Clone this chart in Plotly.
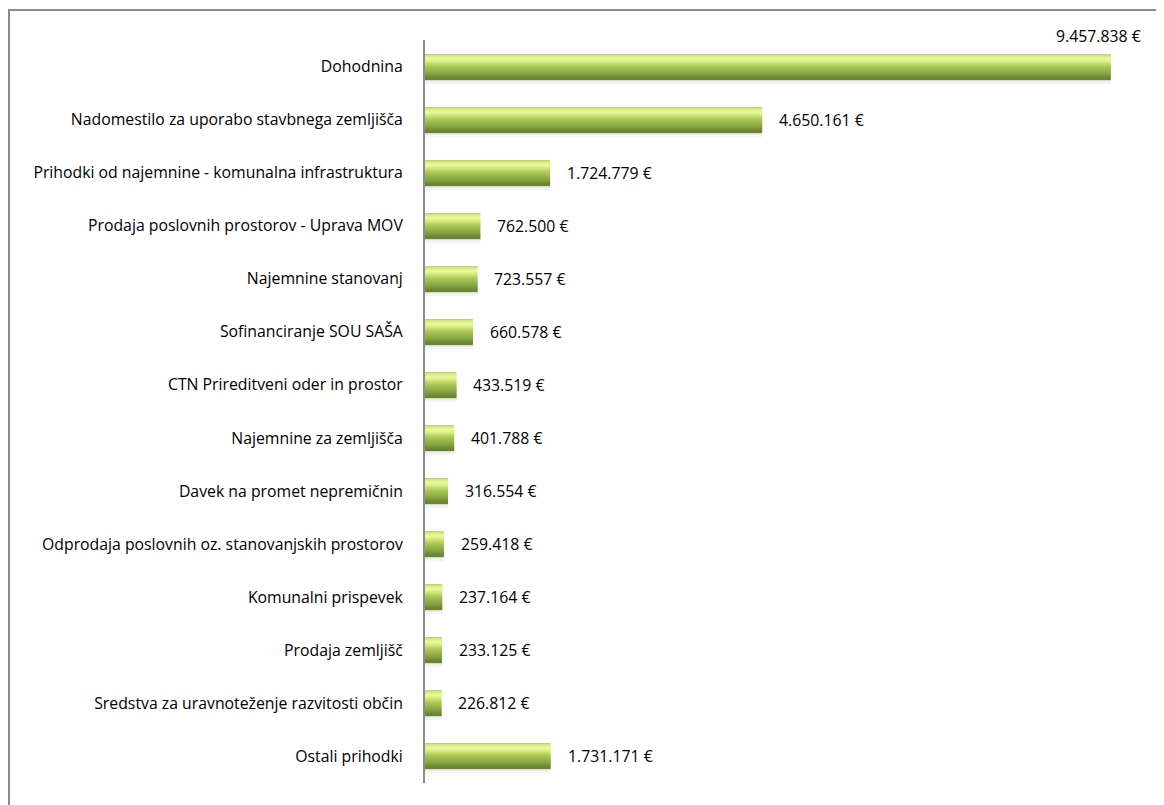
import plotly.graph_objects as go

categories = [
    "Dohodnina",
    "Nadomestilo za uporabo stavbnega zemljišča",
    "Prihodki od najemnine - komunalna infrastruktura",
    "Prodaja poslovnih prostorov - Uprava MOV",
    "Najemnine stanovanj",
    "Sofinanciranje SOU SAŠA",
    "CTN Prireditveni oder in prostor",
    "Najemnine za zemljišča",
    "Davek na promet nepremičnin",
    "Odprodaja poslovnih oz. stanovanjskih prostorov",
    "Komunalni prispevek",
    "Prodaja zemljišč",
    "Sredstva za uravnoteženje razvitosti občin",
    "Ostali prihodki",
]
values = [9457838, 4650161, 1724779, 762500, 723557, 660578, 433519, 401788,
          316554, 259418, 237164, 233125, 226812, 1731171]
value_labels = ["9.457.838 €", "4.650.161 €", "1.724.779 €", "762.500 €", "723.557 €",
                "660.578 €", "433.519 €", "401.788 €", "316.554 €", "259.418 €",
                "237.164 €", "233.125 €", "226.812 €", "1.731.171 €"]

ypos = list(range(len(categories)))

# page body has an 8px margin, so the figure is drawn 8px in from the top-left
W, H = 1156, 797
ml, mr, mt, mb = 417, 14, 32, 22
plot_h = H - mt - mb
unit = plot_h / len(categories)  # px per category

FONT = "Open Sans"
FS_CAT = 15.8
FS_VAL = 15.8

# vertical gradient of each bar: (px from bar top, colour)
grad_anchors = [
    (0, (0xb4, 0xd0, 0x60)),
    (2, (0xd6, 0xec, 0x82)),
    (5, (0xea, 0xfa, 0x9e)),
    (8, (0xd4, 0xea, 0x7e)),
    (11, (0xb6, 0xd2, 0x60)),
    (14, (0xa2, 0xbf, 0x51)),
    (17, (0x93, 0xb1, 0x48)),
    (20, (0x84, 0xa1, 0x41)),
    (23, (0x70, 0x8c, 0x36)),
    (25, (0x66, 0x80, 0x30)),
]
bar_px = 25


def grad_color(p):
    for (p0, c0), (p1, c1) in zip(grad_anchors, grad_anchors[1:]):
        if p0 <= p <= p1:
            t = (p - p0) / (p1 - p0)
            c = [round(a + (b - a) * t) for a, b in zip(c0, c1)]
            return "rgb(%d,%d,%d)" % tuple(c)
    return "rgb(%d,%d,%d)" % grad_anchors[-1][1]


fig = go.Figure()
# soft shadow under bars
for k, col in enumerate(["#c9c9c9", "#dcdcdc", "#ebebeb", "#f4f4f4"]):
    fig.add_trace(go.Bar(
        x=values, y=ypos, orientation="h",
        width=[1.05 / unit] * len(values), offset=(bar_px / 2 + k) / unit,
        marker=dict(color=col, line=dict(width=0)),
        hoverinfo="skip", showlegend=False,
    ))
for p in range(bar_px):
    fig.add_trace(go.Bar(
        x=values, y=ypos, orientation="h",
        width=[1.05 / unit] * len(values),
        offset=(p - bar_px / 2) / unit,
        marker=dict(color=grad_color(p + 0.5), line=dict(width=0)),
        hoverinfo="skip", showlegend=False,
    ))

annotations = []
for i, (v, t) in enumerate(zip(values, value_labels)):
    if i == 0:
        annotations.append(dict(x=v, y=i, text=t, showarrow=False, xanchor="right",
                                xshift=32, yshift=31, font=dict(family=FONT, size=FS_VAL, color="#000")))
    else:
        annotations.append(dict(x=v, y=i, text=t, showarrow=False, xanchor="left",
                                xshift=15, font=dict(family=FONT, size=FS_VAL, color="#000")))

fig.update_layout(
    width=W, height=H,
    margin=dict(l=ml, r=mr, t=mt, b=mb, pad=0),
    barmode="overlay",
    plot_bgcolor="white", paper_bgcolor="white",
    font=dict(family=FONT, size=FS_CAT, color="#000"),
    xaxis=dict(range=[0, 10000000], visible=False, fixedrange=True),
    yaxis=dict(range=[len(categories) - 0.5, -0.5], tickvals=ypos, ticktext=categories,
               showline=True, linecolor="#8c8c8c", linewidth=2, showgrid=False,
               zeroline=False, ticks="", ticklabelstandoff=17,
               tickfont=dict(family=FONT, size=FS_CAT, color="#000")),
    annotations=annotations,
    shapes=[dict(type="rect", xref="paper", yref="paper",
                 x0=(1 - ml) / (W - ml - mr), x1=1.5,
                 y0=-0.5, y1=1 + (mt - 2) / plot_h,
                 line=dict(color="#8c8c8c", width=2), fillcolor="rgba(0,0,0,0)", layer="below")],
)

fig.write_html("out.html")
